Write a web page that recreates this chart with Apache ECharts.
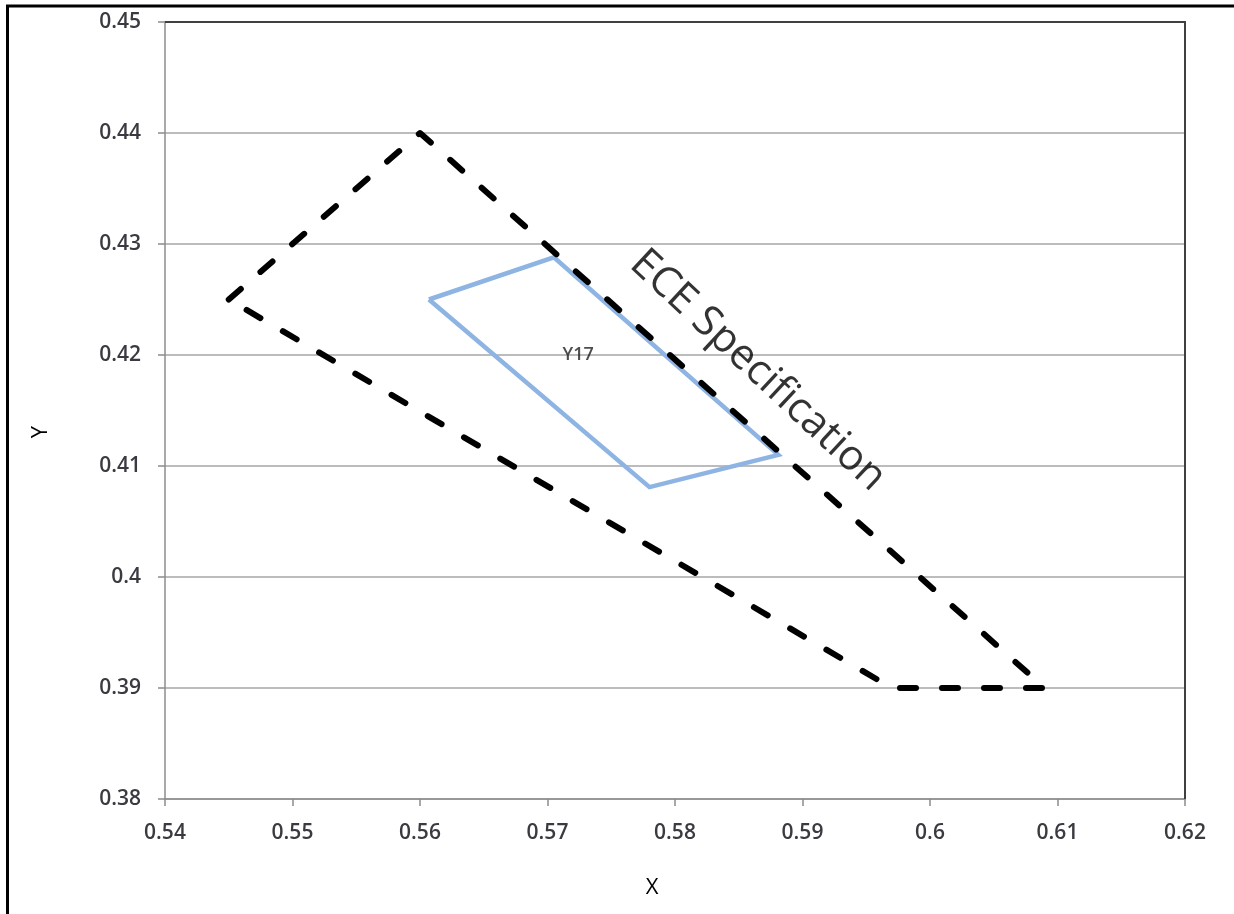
<!DOCTYPE html>
<html>
<head>
<meta charset="utf-8">
<script src="https://cdn.jsdelivr.net/npm/echarts@6/dist/echarts.min.js"></script>
<style>
  html, body { margin: 0; padding: 0; background: #fff; }
  #chart { width: 1234px; height: 914px; }
</style>
</head>
<body>
<div id="chart"></div>
<script>
// ECE amber chromaticity boundary (x, y), closed
const specX = [0.545, 0.560, 0.609, 0.597, 0.545];
const specY = [0.425, 0.440, 0.390, 0.390, 0.425];

// Measured Y17 colour region (x, y), closed
const y17X = [0.5607, 0.5705, 0.5881, 0.5780, 0.5607];
const y17Y = [0.4250, 0.4288, 0.4110, 0.4081, 0.4250];

// Axis ranges and tick step
const xRange = [0.54, 0.62];
const yRange = [0.38, 0.45];
const tickStep = 0.01;

// Annotation anchors in data space
const y17Label = { text: 'Y17', x: 0.5724, y: 0.4200 };
const specLabel = { text: 'ECE Specification', x: 0.5865, y: 0.4186 };

const zip = (xs, ys) => xs.map((v, i) => [v, ys[i]]);

const chart = echarts.init(document.getElementById('chart'), null, { renderer: 'canvas' });

const FONT = 'Open Sans';
const fmt = v => String(Math.round(v * 1000) / 1000);

chart.setOption({
  animation: false,
  backgroundColor: '#fff',
  grid: { left: 165, right: 49, top: 22, bottom: 115, show: false },
  xAxis: {
    type: 'value', min: xRange[0], max: xRange[1], interval: tickStep,
    axisLine: { show: true, lineStyle: { color: '#8c8c8c', width: 1.5 } },
    axisTick: { show: true, length: 7, lineStyle: { color: '#8c8c8c', width: 1.5 } },
    axisLabel: { formatter: fmt, color: '#3a3a40', fontFamily: FONT, fontWeight: 600, fontSize: 21, margin: 24 },
    splitLine: { show: false }
  },
  yAxis: {
    type: 'value', min: yRange[0], max: yRange[1], interval: tickStep,
    axisLine: { show: true, lineStyle: { color: '#8c8c8c', width: 1.5 } },
    axisTick: { show: true, inside: false, length: 7, lineStyle: { color: '#8c8c8c', width: 1.5 } },
    axisLabel: { formatter: fmt, color: '#3a3a40', fontFamily: FONT, fontWeight: 600, fontSize: 21, margin: 24 },
    splitLine: { show: true, lineStyle: { color: '#a6a6a6', width: 1.5 } }
  },
  series: [
    {
      name: 'Y17', type: 'line', data: zip(y17X, y17Y), showSymbol: false, z: 3,
      lineStyle: { color: '#8db4e2', width: 4.5, join: 'miter' }
    },
    {
      name: 'ECE', type: 'line', data: zip(specX, specY), showSymbol: false, z: 4,
      lineStyle: { color: '#000', width: 6, type: [16, 26], cap: 'round', join: 'round' }
    },
    {
      type: 'scatter', symbolSize: 0, z: 5, silent: true,
      data: [[y17Label.x, y17Label.y]],
      label: { show: true, position: 'inside', formatter: y17Label.text,
               color: '#202020', fontFamily: FONT, fontWeight: 600, fontSize: 18 }
    },
    {
      type: 'scatter', symbolSize: 0, z: 5, silent: true,
      data: [[specLabel.x, specLabel.y]],
      label: { show: true, position: 'inside', rotate: -43, formatter: specLabel.text,
               color: '#000', fontFamily: FONT, fontSize: 42 }
    }
  ],
  graphic: [
    // plot frame: top and right edges
    { type: 'polyline', z: 10, silent: true,
      shape: { points: [[165, 22], [1185, 22], [1185, 799]] },
      style: { stroke: '#404040', lineWidth: 2, fill: null } },
    // outer border (top and left visible)
    { type: 'polyline', z: 10, silent: true,
      shape: { points: [[7.5, 914], [7.5, 6], [1234, 6]] },
      style: { stroke: '#000', lineWidth: 3, fill: null } },
    { type: 'text', z: 10, silent: true,
      style: { text: 'X', x: 652, y: 888, align: 'center', verticalAlign: 'middle',
               fill: '#000', font: '22px "Open Sans"' } },
    { type: 'text', z: 10, silent: true, x: 41, y: 432, rotation: Math.PI / 2,
      style: { text: 'Y', x: 0, y: 0, align: 'center', verticalAlign: 'middle',
               fill: '#000', font: '22px "Open Sans"' } }
  ]
});
</script>
</body>
</html>
